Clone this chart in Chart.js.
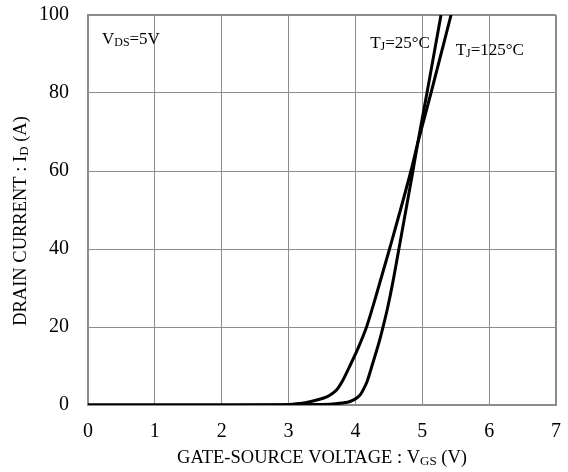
<!DOCTYPE html>
<html>
<head>
<meta charset="utf-8">
<script src="https://cdn.jsdelivr.net/npm/chart.js@4/dist/chart.umd.min.js"></script>
<style>
  html, body { margin: 0; padding: 0; background: #fff; }
  canvas { display: block; }
</style>
</head>
<body>
<canvas id="c" width="568" height="472"></canvas>
<script>
// Transfer characteristics: drain current vs gate-source voltage
const vgs25 = [0, 1, 2, 3, 3.4, 3.66, 3.8, 3.92, 4.02, 4.08, 4.12, 4.18, 4.24, 4.30, 4.36, 4.42, 4.48, 4.56, 4.65, 4.86, 4.93, 5.07, 5.28];
const id25  = [0, 0, 0, 0.02, 0.1, 0.25, 0.5, 0.9, 1.8, 2.8, 4.0, 6.3, 9.6, 13, 16.5, 20.5, 24.8, 31.5, 40, 60, 67, 80, 100];

const vgs125 = [0, 1, 2, 2.8, 3.0, 3.2, 3.32, 3.45, 3.57, 3.65, 3.72, 3.81, 3.91, 4.04, 4.17, 4.30, 4.51, 4.83, 4.93, 5.13, 5.43];
const id125  = [0, 0, 0, 0.05, 0.15, 0.45, 0.85, 1.4, 2.1, 2.9, 3.9, 6.3, 9.8, 14.6, 20.2, 27.5, 40, 60, 67, 80, 100];

const xRange = [0, 7];
const yRange = [0, 100];

// Rich-text labels (segments with subscripts) and their anchor values
const labelVds   = [{ t: 'V' }, { t: 'DS', sub: true }, { t: '=5V' }];
const labelT25   = [{ t: 'T' }, { t: 'J', sub: true }, { t: '=25°C' }];
const labelT125  = [{ t: 'T' }, { t: 'J', sub: true }, { t: '=125°C' }];
const titleX     = [{ t: 'GATE-SOURCE VOLTAGE : V' }, { t: 'GS', sub: true }, { t: ' (V)' }];
const titleY     = [{ t: 'DRAIN CURRENT : I' }, { t: 'D', sub: true }, { t: ' (A)' }];
const annotations = [
  { parts: labelVds,  x: 0.21, y: 92.5 },
  { parts: labelT25,  x: 4.22, y: 91.6 },
  { parts: labelT125, x: 5.50, y: 89.7 }
];

const FONT = '"Liberation Serif", "Times New Roman", serif';
const GRID = '#8c8c8c';

function toPoints(xs, ys) { return xs.map((v, i) => ({ x: v, y: ys[i] })); }

function drawRich(ctx, parts, x, y, size, align) {
  const segs = parts.map(p => ({ t: p.t, sub: !!p.sub, font: (p.sub ? size * 0.7 : size) + 'px ' + FONT }));
  let total = 0;
  segs.forEach(s => { ctx.font = s.font; s.w = ctx.measureText(s.t).width; total += s.w; });
  let cx = align === 'center' ? x - total / 2 : x;
  ctx.textAlign = 'left';
  ctx.textBaseline = 'alphabetic';
  segs.forEach(s => {
    ctx.font = s.font;
    ctx.fillText(s.t, cx, y + (s.sub ? size * 0.12 : 0));
    cx += s.w;
  });
}

const textPlugin = {
  id: 'richText',
  afterDraw(chart) {
    const ctx = chart.ctx;
    const xs = chart.scales.x, ys = chart.scales.y;
    const area = chart.chartArea;
    ctx.save();
    ctx.fillStyle = '#000';
    annotations.forEach(a => {
      drawRich(ctx, a.parts, xs.getPixelForValue(a.x), ys.getPixelForValue(a.y), 17, 'left');
    });
    // axis titles
    drawRich(ctx, titleX, (area.left + area.right) / 2, 463, 18.5, 'center');
    ctx.translate(26, (area.top + area.bottom) / 2 + 11);
    ctx.rotate(-Math.PI / 2);
    drawRich(ctx, titleY, 0, 0, 18.5, 'center');
    ctx.restore();
  }
};

function edgeWidth(ctx) {
  const ticks = ctx.scale.ticks;
  return ctx.index === ticks.length - 1 ? 2 : 1;
}

function fixBox(size, key) {
  return function (s) {
    s[key] = size;
    s.paddingTop = 0; s.paddingBottom = 0; s.paddingLeft = 0; s.paddingRight = 0;
  };
}

new Chart(document.getElementById('c'), {
  type: 'line',
  data: {
    datasets: [
      { label: 'TJ=25°C', data: toPoints(vgs25, id25) },
      { label: 'TJ=125°C', data: toPoints(vgs125, id125) }
    ]
  },
  options: {
    responsive: false,
    animation: false,
    parsing: false,
    layout: { padding: { top: 15, right: 12, left: 0, bottom: 0 } },
    elements: {
      point: { radius: 0 },
      line: { borderColor: '#000', borderWidth: 3, cubicInterpolationMode: 'monotone', fill: false }
    },
    plugins: { legend: { display: false }, tooltip: { enabled: false } },
    scales: {
      x: {
        type: 'linear',
        min: xRange[0], max: xRange[1],
        afterFit: fixBox(67, 'height'),
        ticks: { stepSize: 1, padding: 15, color: '#000', font: { family: FONT, size: 20 } },
        grid: { color: GRID, lineWidth: edgeWidth, drawTicks: false },
        border: { color: GRID, width: 2 }
      },
      y: {
        type: 'linear',
        min: yRange[0], max: yRange[1],
        afterFit: fixBox(88, 'width'),
        ticks: { stepSize: 20, padding: 19, color: '#000', font: { family: FONT, size: 20 } },
        grid: { color: GRID, lineWidth: edgeWidth, drawTicks: false },
        border: { color: GRID, width: 2 }
      }
    }
  },
  plugins: [textPlugin]
});
</script>
</body>
</html>
